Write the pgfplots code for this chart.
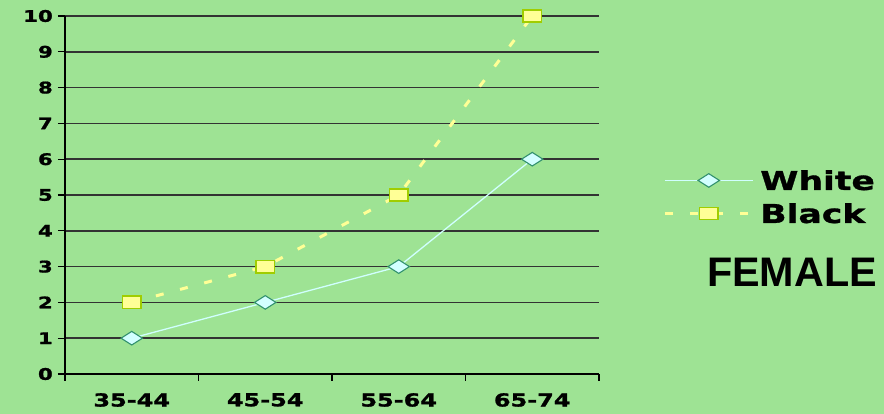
\documentclass[border=0pt]{standalone}
\usepackage{fontspec}
\usepackage{pgfplots}
\pgfplotsset{compat=1.18}
\setmainfont{DejaVu Sans}
\newfontfamily\widefont[FakeStretch=1.33, FakeBold=1.2]{DejaVu Sans}
\newfontfamily\headfont{Liberation Sans}

\definecolor{bg}{RGB}{158,227,148}
\definecolor{whiteline}{RGB}{208,255,255}
\definecolor{whitefill}{RGB}{210,255,255}
\definecolor{whiteedge}{RGB}{50,145,110}
\definecolor{blackline}{RGB}{255,255,150}
\definecolor{blackfill}{RGB}{255,255,150}
\definecolor{blackedge}{RGB}{160,205,0}

\begin{document}
\begin{tikzpicture}
\path[use as bounding box, fill=bg] (0,0) rectangle (884bp,414bp);
\begin{axis}[
  at={(65bp,40bp)}, anchor=south west,
  scale only axis, width=534bp, height=358bp,
  xmin=-0.5, xmax=3.5, ymin=0, ymax=10,
  axis lines=left,
  axis line style={-, line width=1.6bp, black},
  ytick={0,1,...,10},
  ymajorgrids,
  grid style={line width=1.5bp, color=black!80},
  xtick={-0.5,0.5,1.5,2.5,3.5}, xticklabels={},
  extra x ticks={0,1,2,3},
  extra x tick labels={35-44,45-54,55-64,65-74},
  extra x tick style={major tick length=0pt, grid=none},
  tick align=outside,
  major tick length=7bp,
  tick style={line width=1.3bp, black},
  /pgf/number format/assume math mode=true,
  yticklabel style={font=\widefont\bfseries\fontsize{16bp}{16bp}\selectfont, inner sep=0pt, xshift=-5bp},
  xticklabel style={font=\widefont\bfseries\fontsize{18bp}{18bp}\selectfont, inner sep=0pt, yshift=-19bp},
  clip=false,
  legend style={at={(1.12,0.4945)}, anchor=west, draw=none, fill=none,
    inner sep=0pt, row sep=14bp,
    font=\widefont\bfseries\fontsize{26bp}{26bp}\selectfont,
    nodes={inner sep=0pt, text height=19bp, text depth=0pt}},
  legend cell align=left,
  legend image code/.code={
    \draw[mark repeat=2, mark phase=2, #1]
      plot coordinates {(0bp,0bp) (44bp,0bp) (88bp,0bp)};
  },
]
\addplot[color=whiteline, line width=1.3bp,
  mark=diamond*, mark size=6.8bp,
  mark options={solid, xscale=2.1, fill=whitefill, draw=whiteedge, line width=1.1bp}]
  coordinates {(0,1) (1,2) (2,3) (3,6)};
\addlegendentry{\hspace{6bp}White}
\addplot[color=blackline, line width=3bp, dash pattern=on 8bp off 17bp,
  mark=square*, mark size=6.2bp,
  mark options={solid, xscale=1.5, fill=blackfill, draw=blackedge, line width=1.5bp}]
  coordinates {(0,2) (1,3) (2,5) (3,10)};
\addlegendentry{\hspace{6bp}Black}
\end{axis}
\node[anchor=base west, inner sep=0pt] at (707bp,127bp)
  {\headfont\bfseries\fontsize{41.3bp}{41.3bp}\selectfont FEMALE};
\end{tikzpicture}
\end{document}
